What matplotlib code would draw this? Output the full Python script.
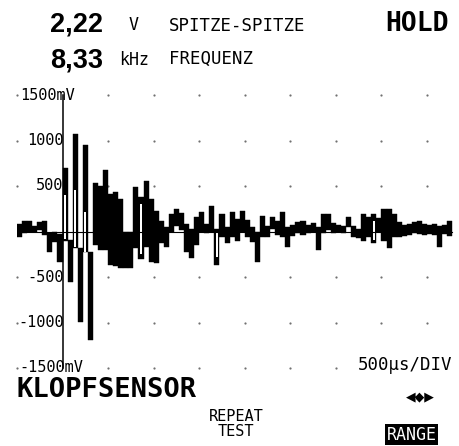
import numpy as np
import matplotlib
matplotlib.use('Agg')
import matplotlib.pyplot as plt

W, H = 459, 446

# scope timebase
US_PER_DIV = 500
T_START = -500        # trace starts one division before the trigger
N_PER_DIV = 9         # min/max buckets per division

# min/max envelope of the knock sensor signal (mV), one pair per bucket
trace_hi = [80, 120, 110, 60, 100, 110, -20, -10, -30, 700,
            -90, 1067, -180, 946, -230, 530, 495, 680, 410, 430,
            352, 0, -10, 484, 380, 550, 352, 220, 110, 44,
            187, 242, 200, 77, 22, 154, 209, 77, 275, 22,
            187, 44, 209, 132, 220, 130, 44, 0, 165, 55,
            154, 110, 209, 44, 66, 99, 110, 66, 88, 44,
            187, 187, 88, 66, 55, 154, 55, 22, 187, 160,
            187, 150, 242, 242, 187, 99, 66, 77, 99, 110,
            77, 66, 77, 55, 66, 110]
trace_lo = [-55, -20, 0, 0, 20, -40, -230, -120, -340, -100,
            -550, -180, -990, -230, -1190, -150, -200, -200, -363, -380,
            -396, -400, -400, -176, -300, -165, -330, -341, -121, -165,
            0, 55, 20, -230, -286, -143, 0, -11, 0, -363,
            -55, -121, -55, -100, 0, -55, -110, -330, -55, -55,
            22, -33, -55, -165, -44, -11, -33, -11, 0, -198,
            -11, 11, -11, 0, -11, 44, -55, -66, -100, -55,
            -121, 0, -100, -176, -55, -55, -44, -33, -11, -22,
            -33, -22, -33, -165, -22, -44]

# buckets where only the edges of the swing are drawn (open interior)
hollow_idx = [9, 11, 13, 24, 39, 70]
hollow_hi = [400, 460, 210, 300, 0, 120]
hollow_lo = [-80, -170, -220, -250, -280, -90]

y_ticks = [1500, 1000, 500, -500, -1000, -1500]
y_labels = ['1500mV', '1000', '500', '-500', '-1000', '-1500mV']
x_grid = [-500, 500, 1000, 1500, 2000, 2500, 3000, 3500, 4000]

dt = US_PER_DIV / N_PER_DIV
t = T_START + (np.arange(len(trace_hi)) + 0.5) * dt
hi = np.array(trace_hi)
lo = np.array(trace_lo)

mono = 'DejaVu Sans Mono'


def fx(x):
    return x / W


def fy(y):
    return 1 - y / H


fig = plt.figure(figsize=(W / 100, H / 100), dpi=100)
fig.patch.set_facecolor('white')

px_per_us = 45.56 / US_PER_DIV
ax = fig.add_axes([fx(17), fy(368), 438 / W, 273 / H])
ax.set_xlim(T_START, T_START + 438 / px_per_us)
ax.set_ylim(-1500, 1500)
ax.axis('off')

# dotted division grid
gx, gy = np.meshgrid(x_grid, y_ticks)
ax.plot(gx.ravel(), gy.ravel(), 'o', ms=1.6, color='#707070', mec='none',
        clip_on=False, zorder=1)

# signal envelope
ax.bar(t, hi - lo, bottom=lo, width=dt, color='black', edgecolor='black',
       linewidth=0.3, zorder=2)
hidx = np.array(hollow_idx)
ax.bar(t[hidx], np.array(hollow_hi) - np.array(hollow_lo), bottom=hollow_lo,
       width=dt * 0.45, color='white', linewidth=0, zorder=3)

# zero line and vertical axis
ax.plot([T_START, t[-1] + dt / 2], [0, 0], color='black', lw=0.8, zorder=4)
ax.plot([0, 0], [-1500, 1500], color='black', lw=1.1, zorder=4,
        clip_on=False)

for v, lab in zip(y_ticks, y_labels):
    if lab.endswith('mV'):
        ax.text(-470, v, lab, ha='left', va='center', fontsize=11,
                family=mono, zorder=5)
    else:
        ax.text(12, v, lab, ha='right', va='center', fontsize=11,
                family=mono, zorder=5)

# header readouts
fig.text(fx(50), fy(32), '2,22', fontsize=19.5, fontweight='bold',
         family='Liberation Sans', va='baseline')
fig.text(fx(129), fy(30), 'V', fontsize=12, family=mono, va='baseline')
fig.text(fx(169), fy(31), 'SPITZE-SPITZE', fontsize=12.5, family=mono,
         va='baseline')
fig.text(fx(449), fy(31), 'HOLD', fontsize=19, fontweight='bold',
         family=mono, ha='right', va='baseline')
fig.text(fx(50), fy(67), '8,33', fontsize=19.5, fontweight='bold',
         family='Liberation Sans', va='baseline')
fig.text(fx(119), fy(65), 'kHz', fontsize=12, family=mono, va='baseline')
fig.text(fx(169), fy(64), 'FREQUENZ', fontsize=12.5, family=mono,
         va='baseline')

# footer
fig.text(fx(452), fy(370), '500µs/DIV', fontsize=12.5, family=mono,
         ha='right', va='baseline')
fig.text(fx(16), fy(397), 'KLOPFSENSOR', fontsize=19.5, fontweight='bold',
         family=mono, va='baseline')
fig.text(fx(420), fy(397), '◀◆▶', fontsize=9, family='DejaVu Sans',
         ha='center', va='center')
fig.text(fx(236), fy(424), 'REPEAT\nTEST', fontsize=11, family=mono,
         ha='center', va='center', multialignment='center', linespacing=0.95)
fig.text(fx(411.5), fy(434.5), 'RANGE', fontsize=12, family=mono,
         color='white', ha='center', va='center',
         bbox=dict(boxstyle='square,pad=0.1', fc='black', ec='none'))

fig.savefig('out.png', dpi=100, facecolor='white')
